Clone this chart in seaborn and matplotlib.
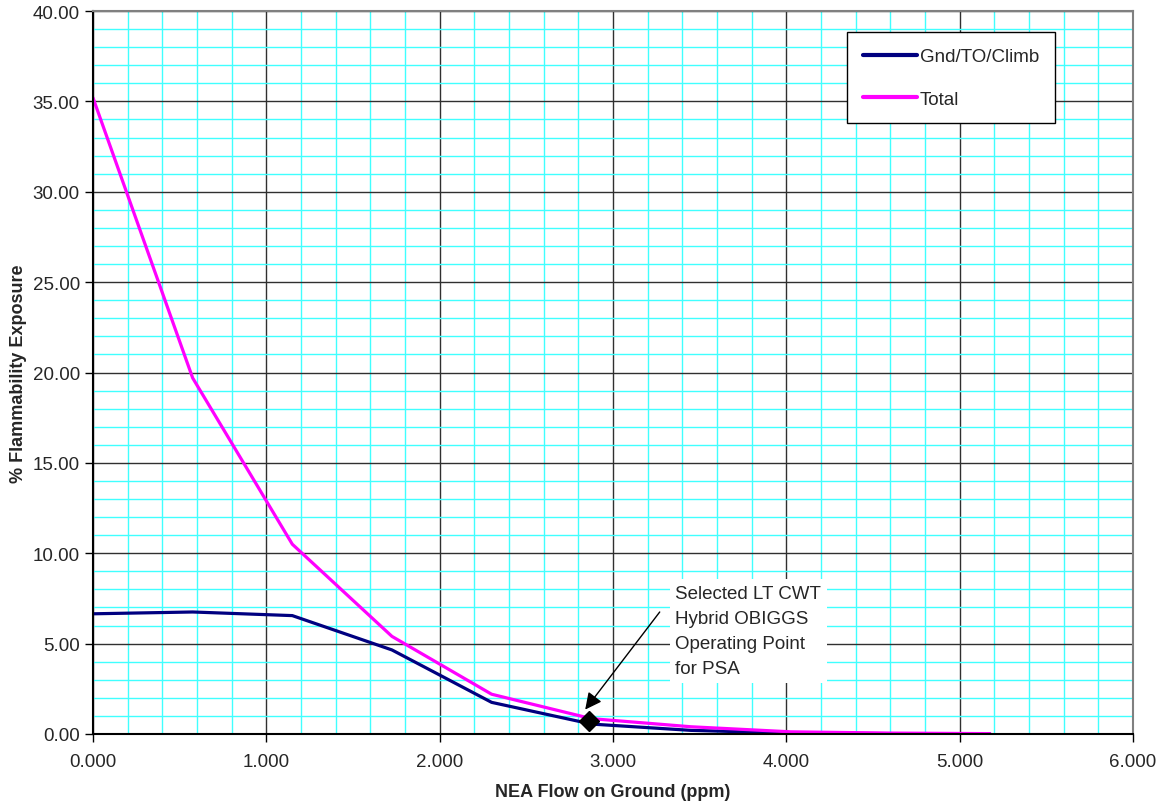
import numpy as np
import pandas as pd
import seaborn as sns
import matplotlib.pyplot as plt
from matplotlib.ticker import MultipleLocator, FormatStrFormatter

# values
nea_flow = [0.0, 0.575, 1.15, 1.725, 2.30, 2.875, 3.45, 4.025, 4.60, 5.175]
gnd_to_climb = [6.65, 6.75, 6.55, 4.65, 1.75, 0.55, 0.20, 0.05, 0.02, 0.01]
total = [35.2, 19.7, 10.5, 5.4, 2.2, 0.85, 0.40, 0.12, 0.05, 0.02]
series_names = ["Gnd/TO/Climb", "Total"]
series_colors = ["#000080", "#FF00FF"]
op_point_x = [2.86]
op_point_y = [0.72]

df = pd.DataFrame({
    "NEA Flow on Ground (ppm)": nea_flow * 2,
    "% Flammability Exposure": gnd_to_climb + total,
    "series": [series_names[0]] * len(nea_flow) + [series_names[1]] * len(nea_flow),
})

sns.set_style("white")
plt.rcParams["font.family"] = ["Liberation Sans", "DejaVu Sans"]

fig = plt.figure(figsize=(11.58, 8.03), dpi=100)
ax = fig.add_axes([0.0803, 0.0847, 0.898, 0.9003])

# grid
ax.set_xlim(0, 6)
ax.set_ylim(0, 40)
ax.xaxis.set_major_locator(MultipleLocator(1))
ax.xaxis.set_minor_locator(MultipleLocator(0.2))
ax.yaxis.set_major_locator(MultipleLocator(5))
ax.yaxis.set_minor_locator(MultipleLocator(1))
ax.grid(which="minor", color="#40FFFF", linewidth=1.0)
ax.grid(which="major", color="#303030", linewidth=1.0)
ax.set_axisbelow(True)

sns.lineplot(data=df, x="NEA Flow on Ground (ppm)", y="% Flammability Exposure",
             hue="series", palette=series_colors, linewidth=2.3, ax=ax)

ax.plot(op_point_x, op_point_y, marker="D", color="black", markersize=10,
        linestyle="none", zorder=5)

# callout text and arrow
ax.text(3.36, 8.25, "Selected LT CWT\nHybrid OBIGGS\nOperating Point\nfor PSA",
        fontsize=13.5, ha="left", va="top", linespacing=1.62, zorder=6,
        bbox=dict(boxstyle="square,pad=0.3", fc="white", ec="none"))
ax.annotate("", xy=(2.84, 1.35), xytext=(3.27, 6.75),
            arrowprops=dict(arrowstyle="-|>", color="black", lw=1,
                            mutation_scale=25, shrinkA=0, shrinkB=0))

ax.xaxis.set_major_formatter(FormatStrFormatter("%.3f"))
ax.yaxis.set_major_formatter(FormatStrFormatter("%.2f"))
ax.tick_params(axis="both", which="major", labelsize=13.5, length=6,
               width=1, direction="out", color="black", bottom=True, left=True)
ax.tick_params(axis="both", which="minor", length=0)
ax.tick_params(axis="x", pad=8)

ax.set_xlabel("NEA Flow on Ground (ppm)", fontsize=13, fontweight="bold", labelpad=9)
ax.set_ylabel("% Flammability Exposure", fontsize=13, fontweight="bold", labelpad=4)

for side in ["left", "bottom"]:
    ax.spines[side].set_color("black")
    ax.spines[side].set_linewidth(1.5)
for side in ["top", "right"]:
    ax.spines[side].set_color("#808080")
    ax.spines[side].set_linewidth(1.5)

leg = ax.legend(loc="upper left", bbox_to_anchor=(0.725, 0.971), fontsize=13.5,
                frameon=True, fancybox=False, edgecolor="black", framealpha=1,
                labelspacing=1.35, handlelength=2.9, handletextpad=0.15,
                borderpad=0.85, borderaxespad=0)
leg.get_frame().set_linewidth(1)
for line in leg.get_lines():
    line.set_linewidth(3)

fig.savefig("out.png", dpi=100)
